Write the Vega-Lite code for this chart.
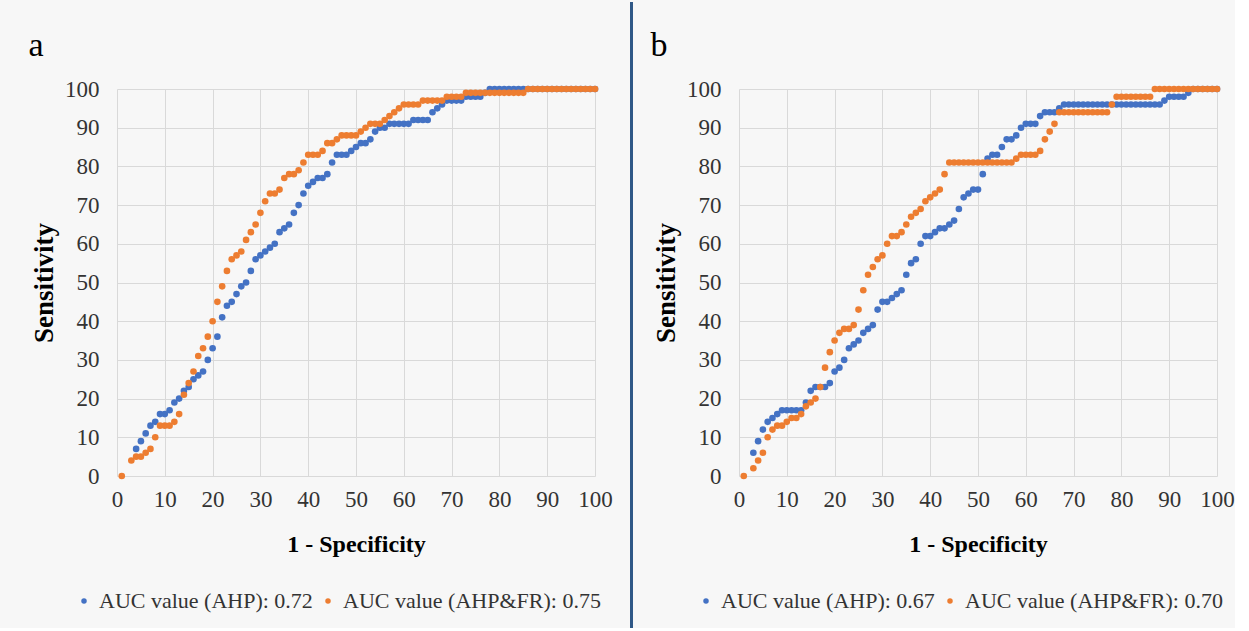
{
 "$schema": "https://vega.github.io/schema/vega-lite/v6.json",
 "background": "#f7f7f7",
 "padding": {"left": 28, "top": 2, "right": 0, "bottom": 0},
 "spacing": 17,
 "datasets": {
  "a": [
   {"x":4,"y":7,"s":"AHP"},{"x":5,"y":9,"s":"AHP"},{"x":6,"y":11,"s":"AHP"},{"x":7,"y":13,"s":"AHP"},{"x":8,"y":14,"s":"AHP"},{"x":9,"y":16,"s":"AHP"},{"x":10,"y":16,"s":"AHP"},{"x":11,"y":17,"s":"AHP"},{"x":12,"y":19,"s":"AHP"},{"x":13,"y":20,"s":"AHP"},{"x":14,"y":22,"s":"AHP"},{"x":15,"y":23,"s":"AHP"},{"x":16,"y":25,"s":"AHP"},{"x":17,"y":26,"s":"AHP"},{"x":18,"y":27,"s":"AHP"},{"x":19,"y":30,"s":"AHP"},{"x":20,"y":33,"s":"AHP"},{"x":21,"y":36,"s":"AHP"},{"x":22,"y":41,"s":"AHP"},{"x":23,"y":44,"s":"AHP"},{"x":24,"y":45,"s":"AHP"},{"x":25,"y":47,"s":"AHP"},{"x":26,"y":49,"s":"AHP"},{"x":27,"y":50,"s":"AHP"},{"x":28,"y":53,"s":"AHP"},{"x":29,"y":56,"s":"AHP"},{"x":30,"y":57,"s":"AHP"},{"x":31,"y":58,"s":"AHP"},{"x":32,"y":59,"s":"AHP"},{"x":33,"y":60,"s":"AHP"},{"x":34,"y":63,"s":"AHP"},{"x":35,"y":64,"s":"AHP"},{"x":36,"y":65,"s":"AHP"},{"x":37,"y":68,"s":"AHP"},{"x":38,"y":70,"s":"AHP"},{"x":39,"y":73,"s":"AHP"},{"x":40,"y":75,"s":"AHP"},{"x":41,"y":76,"s":"AHP"},{"x":42,"y":77,"s":"AHP"},{"x":43,"y":77,"s":"AHP"},{"x":44,"y":78,"s":"AHP"},{"x":45,"y":81,"s":"AHP"},{"x":46,"y":83,"s":"AHP"},{"x":47,"y":83,"s":"AHP"},{"x":48,"y":83,"s":"AHP"},{"x":49,"y":84,"s":"AHP"},{"x":50,"y":85,"s":"AHP"},{"x":51,"y":86,"s":"AHP"},{"x":52,"y":86,"s":"AHP"},{"x":53,"y":87,"s":"AHP"},{"x":54,"y":89,"s":"AHP"},{"x":55,"y":90,"s":"AHP"},{"x":56,"y":90,"s":"AHP"},{"x":57,"y":91,"s":"AHP"},{"x":58,"y":91,"s":"AHP"},{"x":59,"y":91,"s":"AHP"},{"x":60,"y":91,"s":"AHP"},{"x":61,"y":91,"s":"AHP"},{"x":62,"y":92,"s":"AHP"},{"x":63,"y":92,"s":"AHP"},{"x":64,"y":92,"s":"AHP"},{"x":65,"y":92,"s":"AHP"},{"x":66,"y":94,"s":"AHP"},{"x":67,"y":95,"s":"AHP"},{"x":68,"y":96,"s":"AHP"},{"x":69,"y":97,"s":"AHP"},{"x":70,"y":97,"s":"AHP"},{"x":71,"y":97,"s":"AHP"},{"x":72,"y":97,"s":"AHP"},{"x":73,"y":98,"s":"AHP"},{"x":74,"y":98,"s":"AHP"},{"x":75,"y":98,"s":"AHP"},{"x":76,"y":98,"s":"AHP"},{"x":77,"y":99,"s":"AHP"},{"x":78,"y":100,"s":"AHP"},{"x":79,"y":100,"s":"AHP"},{"x":80,"y":100,"s":"AHP"},{"x":81,"y":100,"s":"AHP"},{"x":82,"y":100,"s":"AHP"},{"x":83,"y":100,"s":"AHP"},{"x":84,"y":100,"s":"AHP"},{"x":85,"y":100,"s":"AHP"},{"x":86,"y":100,"s":"AHP"},{"x":87,"y":100,"s":"AHP"},{"x":88,"y":100,"s":"AHP"},{"x":89,"y":100,"s":"AHP"},{"x":90,"y":100,"s":"AHP"},{"x":91,"y":100,"s":"AHP"},{"x":92,"y":100,"s":"AHP"},{"x":93,"y":100,"s":"AHP"},{"x":94,"y":100,"s":"AHP"},{"x":95,"y":100,"s":"AHP"},{"x":96,"y":100,"s":"AHP"},{"x":97,"y":100,"s":"AHP"},{"x":98,"y":100,"s":"AHP"},{"x":99,"y":100,"s":"AHP"},{"x":100,"y":100,"s":"AHP"},
   {"x":1,"y":0,"s":"AHP&FR"},{"x":3,"y":4,"s":"AHP&FR"},{"x":4,"y":5,"s":"AHP&FR"},{"x":5,"y":5,"s":"AHP&FR"},{"x":6,"y":6,"s":"AHP&FR"},{"x":7,"y":7,"s":"AHP&FR"},{"x":8,"y":10,"s":"AHP&FR"},{"x":9,"y":13,"s":"AHP&FR"},{"x":10,"y":13,"s":"AHP&FR"},{"x":11,"y":13,"s":"AHP&FR"},{"x":12,"y":14,"s":"AHP&FR"},{"x":13,"y":16,"s":"AHP&FR"},{"x":14,"y":21,"s":"AHP&FR"},{"x":15,"y":24,"s":"AHP&FR"},{"x":16,"y":27,"s":"AHP&FR"},{"x":17,"y":31,"s":"AHP&FR"},{"x":18,"y":33,"s":"AHP&FR"},{"x":19,"y":36,"s":"AHP&FR"},{"x":20,"y":40,"s":"AHP&FR"},{"x":21,"y":45,"s":"AHP&FR"},{"x":22,"y":49,"s":"AHP&FR"},{"x":23,"y":53,"s":"AHP&FR"},{"x":24,"y":56,"s":"AHP&FR"},{"x":25,"y":57,"s":"AHP&FR"},{"x":26,"y":58,"s":"AHP&FR"},{"x":27,"y":61,"s":"AHP&FR"},{"x":28,"y":63,"s":"AHP&FR"},{"x":29,"y":65,"s":"AHP&FR"},{"x":30,"y":68,"s":"AHP&FR"},{"x":31,"y":71,"s":"AHP&FR"},{"x":32,"y":73,"s":"AHP&FR"},{"x":33,"y":73,"s":"AHP&FR"},{"x":34,"y":74,"s":"AHP&FR"},{"x":35,"y":77,"s":"AHP&FR"},{"x":36,"y":78,"s":"AHP&FR"},{"x":37,"y":78,"s":"AHP&FR"},{"x":38,"y":79,"s":"AHP&FR"},{"x":39,"y":81,"s":"AHP&FR"},{"x":40,"y":83,"s":"AHP&FR"},{"x":41,"y":83,"s":"AHP&FR"},{"x":42,"y":83,"s":"AHP&FR"},{"x":43,"y":84,"s":"AHP&FR"},{"x":44,"y":86,"s":"AHP&FR"},{"x":45,"y":86,"s":"AHP&FR"},{"x":46,"y":87,"s":"AHP&FR"},{"x":47,"y":88,"s":"AHP&FR"},{"x":48,"y":88,"s":"AHP&FR"},{"x":49,"y":88,"s":"AHP&FR"},{"x":50,"y":88,"s":"AHP&FR"},{"x":51,"y":89,"s":"AHP&FR"},{"x":52,"y":90,"s":"AHP&FR"},{"x":53,"y":91,"s":"AHP&FR"},{"x":54,"y":91,"s":"AHP&FR"},{"x":55,"y":91,"s":"AHP&FR"},{"x":56,"y":92,"s":"AHP&FR"},{"x":57,"y":93,"s":"AHP&FR"},{"x":58,"y":94,"s":"AHP&FR"},{"x":59,"y":95,"s":"AHP&FR"},{"x":60,"y":96,"s":"AHP&FR"},{"x":61,"y":96,"s":"AHP&FR"},{"x":62,"y":96,"s":"AHP&FR"},{"x":63,"y":96,"s":"AHP&FR"},{"x":64,"y":97,"s":"AHP&FR"},{"x":65,"y":97,"s":"AHP&FR"},{"x":66,"y":97,"s":"AHP&FR"},{"x":67,"y":97,"s":"AHP&FR"},{"x":68,"y":97,"s":"AHP&FR"},{"x":69,"y":98,"s":"AHP&FR"},{"x":70,"y":98,"s":"AHP&FR"},{"x":71,"y":98,"s":"AHP&FR"},{"x":72,"y":98,"s":"AHP&FR"},{"x":73,"y":99,"s":"AHP&FR"},{"x":74,"y":99,"s":"AHP&FR"},{"x":75,"y":99,"s":"AHP&FR"},{"x":76,"y":99,"s":"AHP&FR"},{"x":77,"y":99,"s":"AHP&FR"},{"x":78,"y":99,"s":"AHP&FR"},{"x":79,"y":99,"s":"AHP&FR"},{"x":80,"y":99,"s":"AHP&FR"},{"x":81,"y":99,"s":"AHP&FR"},{"x":82,"y":99,"s":"AHP&FR"},{"x":83,"y":99,"s":"AHP&FR"},{"x":84,"y":99,"s":"AHP&FR"},{"x":85,"y":99,"s":"AHP&FR"},{"x":86,"y":100,"s":"AHP&FR"},{"x":87,"y":100,"s":"AHP&FR"},{"x":88,"y":100,"s":"AHP&FR"},{"x":89,"y":100,"s":"AHP&FR"},{"x":90,"y":100,"s":"AHP&FR"},{"x":91,"y":100,"s":"AHP&FR"},{"x":92,"y":100,"s":"AHP&FR"},{"x":93,"y":100,"s":"AHP&FR"},{"x":94,"y":100,"s":"AHP&FR"},{"x":95,"y":100,"s":"AHP&FR"},{"x":96,"y":100,"s":"AHP&FR"},{"x":97,"y":100,"s":"AHP&FR"},{"x":98,"y":100,"s":"AHP&FR"},{"x":99,"y":100,"s":"AHP&FR"},{"x":100,"y":100,"s":"AHP&FR"}
  ],
  "b": [
   {"x":3,"y":6,"s":"AHP"},{"x":4,"y":9,"s":"AHP"},{"x":5,"y":12,"s":"AHP"},{"x":6,"y":14,"s":"AHP"},{"x":7,"y":15,"s":"AHP"},{"x":8,"y":16,"s":"AHP"},{"x":9,"y":17,"s":"AHP"},{"x":10,"y":17,"s":"AHP"},{"x":11,"y":17,"s":"AHP"},{"x":12,"y":17,"s":"AHP"},{"x":13,"y":17,"s":"AHP"},{"x":14,"y":19,"s":"AHP"},{"x":15,"y":22,"s":"AHP"},{"x":16,"y":23,"s":"AHP"},{"x":17,"y":23,"s":"AHP"},{"x":18,"y":23,"s":"AHP"},{"x":19,"y":24,"s":"AHP"},{"x":20,"y":27,"s":"AHP"},{"x":21,"y":28,"s":"AHP"},{"x":22,"y":30,"s":"AHP"},{"x":23,"y":33,"s":"AHP"},{"x":24,"y":34,"s":"AHP"},{"x":25,"y":35,"s":"AHP"},{"x":26,"y":37,"s":"AHP"},{"x":27,"y":38,"s":"AHP"},{"x":28,"y":39,"s":"AHP"},{"x":29,"y":43,"s":"AHP"},{"x":30,"y":45,"s":"AHP"},{"x":31,"y":45,"s":"AHP"},{"x":32,"y":46,"s":"AHP"},{"x":33,"y":47,"s":"AHP"},{"x":34,"y":48,"s":"AHP"},{"x":35,"y":52,"s":"AHP"},{"x":36,"y":55,"s":"AHP"},{"x":37,"y":56,"s":"AHP"},{"x":38,"y":60,"s":"AHP"},{"x":39,"y":62,"s":"AHP"},{"x":40,"y":62,"s":"AHP"},{"x":41,"y":63,"s":"AHP"},{"x":42,"y":64,"s":"AHP"},{"x":43,"y":64,"s":"AHP"},{"x":44,"y":65,"s":"AHP"},{"x":45,"y":66,"s":"AHP"},{"x":46,"y":69,"s":"AHP"},{"x":47,"y":72,"s":"AHP"},{"x":48,"y":73,"s":"AHP"},{"x":49,"y":74,"s":"AHP"},{"x":50,"y":74,"s":"AHP"},{"x":51,"y":78,"s":"AHP"},{"x":52,"y":82,"s":"AHP"},{"x":53,"y":83,"s":"AHP"},{"x":54,"y":83,"s":"AHP"},{"x":55,"y":85,"s":"AHP"},{"x":56,"y":87,"s":"AHP"},{"x":57,"y":87,"s":"AHP"},{"x":58,"y":88,"s":"AHP"},{"x":59,"y":90,"s":"AHP"},{"x":60,"y":91,"s":"AHP"},{"x":61,"y":91,"s":"AHP"},{"x":62,"y":91,"s":"AHP"},{"x":63,"y":93,"s":"AHP"},{"x":64,"y":94,"s":"AHP"},{"x":65,"y":94,"s":"AHP"},{"x":66,"y":94,"s":"AHP"},{"x":67,"y":95,"s":"AHP"},{"x":68,"y":96,"s":"AHP"},{"x":69,"y":96,"s":"AHP"},{"x":70,"y":96,"s":"AHP"},{"x":71,"y":96,"s":"AHP"},{"x":72,"y":96,"s":"AHP"},{"x":73,"y":96,"s":"AHP"},{"x":74,"y":96,"s":"AHP"},{"x":75,"y":96,"s":"AHP"},{"x":76,"y":96,"s":"AHP"},{"x":77,"y":96,"s":"AHP"},{"x":78,"y":96,"s":"AHP"},{"x":79,"y":96,"s":"AHP"},{"x":80,"y":96,"s":"AHP"},{"x":81,"y":96,"s":"AHP"},{"x":82,"y":96,"s":"AHP"},{"x":83,"y":96,"s":"AHP"},{"x":84,"y":96,"s":"AHP"},{"x":85,"y":96,"s":"AHP"},{"x":86,"y":96,"s":"AHP"},{"x":87,"y":96,"s":"AHP"},{"x":88,"y":96,"s":"AHP"},{"x":89,"y":97,"s":"AHP"},{"x":90,"y":98,"s":"AHP"},{"x":91,"y":98,"s":"AHP"},{"x":92,"y":98,"s":"AHP"},{"x":93,"y":98,"s":"AHP"},{"x":94,"y":99,"s":"AHP"},{"x":95,"y":100,"s":"AHP"},{"x":96,"y":100,"s":"AHP"},{"x":97,"y":100,"s":"AHP"},{"x":98,"y":100,"s":"AHP"},{"x":99,"y":100,"s":"AHP"},{"x":100,"y":100,"s":"AHP"},
   {"x":1,"y":0,"s":"AHP&FR"},{"x":3,"y":2,"s":"AHP&FR"},{"x":4,"y":4,"s":"AHP&FR"},{"x":5,"y":6,"s":"AHP&FR"},{"x":6,"y":10,"s":"AHP&FR"},{"x":7,"y":12,"s":"AHP&FR"},{"x":8,"y":13,"s":"AHP&FR"},{"x":9,"y":13,"s":"AHP&FR"},{"x":10,"y":14,"s":"AHP&FR"},{"x":11,"y":15,"s":"AHP&FR"},{"x":12,"y":15,"s":"AHP&FR"},{"x":13,"y":16,"s":"AHP&FR"},{"x":14,"y":18,"s":"AHP&FR"},{"x":15,"y":19,"s":"AHP&FR"},{"x":16,"y":20,"s":"AHP&FR"},{"x":17,"y":23,"s":"AHP&FR"},{"x":18,"y":28,"s":"AHP&FR"},{"x":19,"y":32,"s":"AHP&FR"},{"x":20,"y":35,"s":"AHP&FR"},{"x":21,"y":37,"s":"AHP&FR"},{"x":22,"y":38,"s":"AHP&FR"},{"x":23,"y":38,"s":"AHP&FR"},{"x":24,"y":39,"s":"AHP&FR"},{"x":25,"y":43,"s":"AHP&FR"},{"x":26,"y":48,"s":"AHP&FR"},{"x":27,"y":52,"s":"AHP&FR"},{"x":28,"y":54,"s":"AHP&FR"},{"x":29,"y":56,"s":"AHP&FR"},{"x":30,"y":57,"s":"AHP&FR"},{"x":31,"y":60,"s":"AHP&FR"},{"x":32,"y":62,"s":"AHP&FR"},{"x":33,"y":62,"s":"AHP&FR"},{"x":34,"y":63,"s":"AHP&FR"},{"x":35,"y":65,"s":"AHP&FR"},{"x":36,"y":67,"s":"AHP&FR"},{"x":37,"y":68,"s":"AHP&FR"},{"x":38,"y":69,"s":"AHP&FR"},{"x":39,"y":71,"s":"AHP&FR"},{"x":40,"y":72,"s":"AHP&FR"},{"x":41,"y":73,"s":"AHP&FR"},{"x":42,"y":74,"s":"AHP&FR"},{"x":43,"y":78,"s":"AHP&FR"},{"x":44,"y":81,"s":"AHP&FR"},{"x":45,"y":81,"s":"AHP&FR"},{"x":46,"y":81,"s":"AHP&FR"},{"x":47,"y":81,"s":"AHP&FR"},{"x":48,"y":81,"s":"AHP&FR"},{"x":49,"y":81,"s":"AHP&FR"},{"x":50,"y":81,"s":"AHP&FR"},{"x":51,"y":81,"s":"AHP&FR"},{"x":52,"y":81,"s":"AHP&FR"},{"x":53,"y":81,"s":"AHP&FR"},{"x":54,"y":81,"s":"AHP&FR"},{"x":55,"y":81,"s":"AHP&FR"},{"x":56,"y":81,"s":"AHP&FR"},{"x":57,"y":81,"s":"AHP&FR"},{"x":58,"y":82,"s":"AHP&FR"},{"x":59,"y":83,"s":"AHP&FR"},{"x":60,"y":83,"s":"AHP&FR"},{"x":61,"y":83,"s":"AHP&FR"},{"x":62,"y":83,"s":"AHP&FR"},{"x":63,"y":84,"s":"AHP&FR"},{"x":64,"y":87,"s":"AHP&FR"},{"x":65,"y":89,"s":"AHP&FR"},{"x":66,"y":91,"s":"AHP&FR"},{"x":67,"y":94,"s":"AHP&FR"},{"x":68,"y":94,"s":"AHP&FR"},{"x":69,"y":94,"s":"AHP&FR"},{"x":70,"y":94,"s":"AHP&FR"},{"x":71,"y":94,"s":"AHP&FR"},{"x":72,"y":94,"s":"AHP&FR"},{"x":73,"y":94,"s":"AHP&FR"},{"x":74,"y":94,"s":"AHP&FR"},{"x":75,"y":94,"s":"AHP&FR"},{"x":76,"y":94,"s":"AHP&FR"},{"x":77,"y":94,"s":"AHP&FR"},{"x":78,"y":96,"s":"AHP&FR"},{"x":79,"y":98,"s":"AHP&FR"},{"x":80,"y":98,"s":"AHP&FR"},{"x":81,"y":98,"s":"AHP&FR"},{"x":82,"y":98,"s":"AHP&FR"},{"x":83,"y":98,"s":"AHP&FR"},{"x":84,"y":98,"s":"AHP&FR"},{"x":85,"y":98,"s":"AHP&FR"},{"x":86,"y":98,"s":"AHP&FR"},{"x":87,"y":100,"s":"AHP&FR"},{"x":88,"y":100,"s":"AHP&FR"},{"x":89,"y":100,"s":"AHP&FR"},{"x":90,"y":100,"s":"AHP&FR"},{"x":91,"y":100,"s":"AHP&FR"},{"x":92,"y":100,"s":"AHP&FR"},{"x":93,"y":100,"s":"AHP&FR"},{"x":94,"y":100,"s":"AHP&FR"},{"x":95,"y":100,"s":"AHP&FR"},{"x":96,"y":100,"s":"AHP&FR"},{"x":97,"y":100,"s":"AHP&FR"},{"x":98,"y":100,"s":"AHP&FR"},{"x":99,"y":100,"s":"AHP&FR"},{"x":100,"y":100,"s":"AHP&FR"}
  ]
 },
 "hconcat": [
  {
   "spacing": 0,
   "vconcat": [
    {"width": 478, "height": 1, "data": {"values": []}, "mark": "point"},
    {
     "width": 478, "height": 387,
     "data": {"name": "a"},
     "encoding": {
      "y": {"field": "y", "type": "quantitative", "scale": {"domain": [0, 100], "nice": false}, "axis": {"values": [0,10,20,30,40,50,60,70,80,90,100], "title": "Sensitivity", "labelPadding": 18, "titlePadding": 6}},
      "color": {"field": "s", "type": "nominal", "scale": {"domain": ["AHP", "AHP&FR"], "range": ["#4472C4", "#ED7D31"]}, "legend": {"title": null, "orient": "none", "legendX": -44, "legendY": 588, "direction": "horizontal", "labelExpr": "datum.label == 'AHP' ? 'AUC value (AHP): 0.72' : 'AUC value (AHP&FR): 0.75'"}}
     },
     "layer": [
      {
       "transform": [{"filter": "datum.s == 'AHP'"}],
       "mark": {"type": "circle", "size": 44, "opacity": 1},
       "encoding": {
        "x": {"field": "x", "type": "quantitative", "scale": {"domain": [0, 100], "nice": false}, "axis": {"values": [0,10,20,30,40,50,60,70,80,90,100], "title": "1 - Specificity", "labelPadding": 12, "titlePadding": 21}}
       }
      },
      {
       "transform": [{"filter": "datum.s == 'AHP&FR'"}],
       "mark": {"type": "circle", "size": 44, "opacity": 1},
       "encoding": {
        "x": {"field": "x", "type": "quantitative", "scale": {"domain": [0, 100], "nice": false}, "axis": {"orient": "top", "labels": false, "grid": false, "title": ["", "a"], "titleAnchor": "start", "titleAlign": "left", "titleX": -89, "titleY": -59, "titleBaseline": "alphabetic", "titleFontSize": 34, "titleFontWeight": "normal", "titleLineHeight": 25}}
       }
      }
     ],
     "resolve": {"axis": {"x": "independent"}}
    }
   ]
  },
  {
   "width": 3, "height": 626,
   "data": {"values": [{}]},
   "mark": {"type": "rect", "color": "#2f5887"},
   "encoding": {}
  },
  {
   "spacing": 0,
   "vconcat": [
    {"width": 478, "height": 1, "data": {"values": []}, "mark": "point"},
    {
     "width": 478, "height": 387,
     "data": {"name": "b"},
     "encoding": {
      "y": {"field": "y", "type": "quantitative", "scale": {"domain": [0, 100], "nice": false}, "axis": {"values": [0,10,20,30,40,50,60,70,80,90,100], "title": "Sensitivity", "labelPadding": 18, "titlePadding": 6}},
      "color": {"field": "s", "type": "nominal", "scale": {"domain": ["AHP", "AHP&FR"], "range": ["#4472C4", "#ED7D31"]}, "legend": {"title": null, "orient": "none", "legendX": -44, "legendY": 588, "direction": "horizontal", "labelExpr": "datum.label == 'AHP' ? 'AUC value (AHP): 0.67' : 'AUC value (AHP&FR): 0.70'"}}
     },
     "layer": [
      {
       "transform": [{"filter": "datum.s == 'AHP'"}],
       "mark": {"type": "circle", "size": 44, "opacity": 1},
       "encoding": {
        "x": {"field": "x", "type": "quantitative", "scale": {"domain": [0, 100], "nice": false}, "axis": {"values": [0,10,20,30,40,50,60,70,80,90,100], "title": "1 - Specificity", "labelPadding": 12, "titlePadding": 21}}
       }
      },
      {
       "transform": [{"filter": "datum.s == 'AHP&FR'"}],
       "mark": {"type": "circle", "size": 44, "opacity": 1},
       "encoding": {
        "x": {"field": "x", "type": "quantitative", "scale": {"domain": [0, 100], "nice": false}, "axis": {"orient": "top", "labels": false, "grid": false, "title": ["", "b"], "titleAnchor": "start", "titleAlign": "left", "titleX": -89, "titleY": -59, "titleBaseline": "alphabetic", "titleFontSize": 34, "titleFontWeight": "normal", "titleLineHeight": 25}}
       }
      }
     ],
     "resolve": {"axis": {"x": "independent"}}
    }
   ]
  }
 ],
 "resolve": {"scale": {"color": "independent"}, "legend": {"color": "independent"}},
 "config": {
  "view": {"stroke": null},
  "axis": {"labelFont": "Liberation Serif", "labelFontSize": 23, "labelColor": "#333333", "labelFlush": false, "labelOverlap": false, "titleFont": "Liberation Serif", "titleFontSize": 24, "titleFontWeight": "bold", "titleColor": "#000000", "gridColor": "#d9d9d9", "gridWidth": 1, "domain": false, "ticks": false},
  "axisY": {"titleFontSize": 27},
  "legend": {"labelFont": "Liberation Serif", "labelFontSize": 22, "labelColor": "#333333", "symbolSize": 30, "symbolType": "circle", "columnPadding": 4, "labelLimit": 400}
 }
}
